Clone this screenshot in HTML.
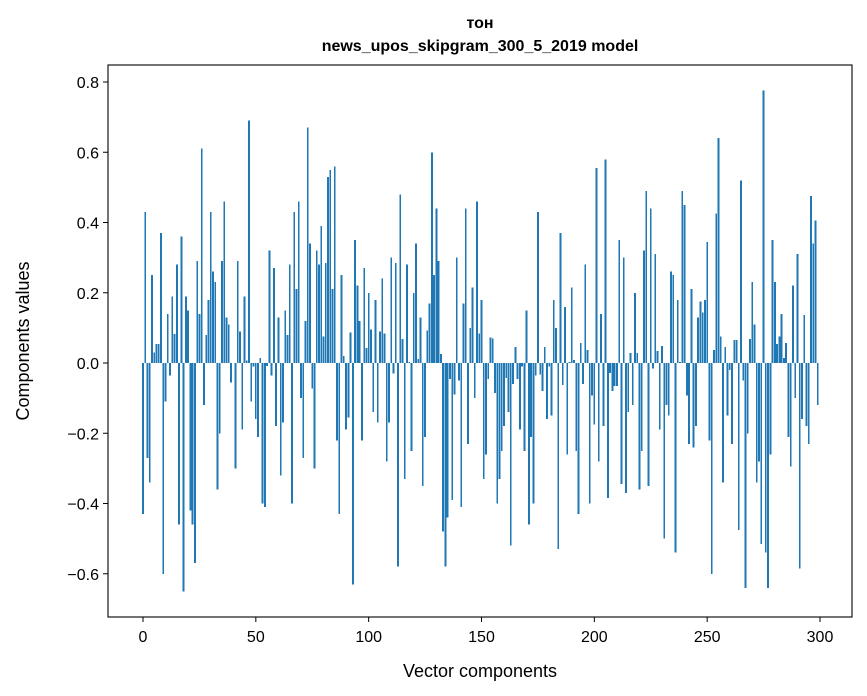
<!DOCTYPE html>
<html><head><meta charset="utf-8"><style>
html,body{margin:0;padding:0;background:#fff}
svg{display:block;font-family:"Liberation Sans","DejaVu Sans",sans-serif}
</style></head><body>
<svg id="chart" width="867" height="696" xmlns="http://www.w3.org/2000/svg">
<text x="480" y="28" text-anchor="middle" font-size="16" font-weight="bold">тон</text>
<text x="480" y="51" text-anchor="middle" font-size="16" font-weight="bold">news_upos_skipgram_300_5_2019 model</text>
<g id="bars" shape-rendering="crispEdges"></g>
<g id="axes"></g>
<text x="480" y="677" text-anchor="middle" font-size="18">Vector components</text>
<text transform="translate(29,341) rotate(-90)" text-anchor="middle" font-size="18">Components values</text>
</svg>
<script>
const values = [-0.43,0.43,-0.27,-0.34,0.25,0.03,0.054,0.054,0.37,-0.60,-0.11,0.14,-0.036,0.19,0.083,0.28,-0.46,0.36,-0.65,0.19,0.15,-0.42,-0.46,-0.57,0.29,0.14,0.61,-0.12,0.08,0.18,0.43,0.26,0.23,-0.36,-0.2,0.29,0.46,0.13,0.11,-0.056,0.0,-0.30,0.29,0.09,-0.19,0.19,0.007,0.69,-0.11,-0.01,
-0.16,-0.21,0.014,-0.40,-0.41,-0.008,0.32,-0.036,0.27,-0.18,0.13,-0.32,-0.17,0.15,0.08,0.28,-0.40,0.43,0.21,0.46,-0.10,-0.27,0.12,0.67,0.34,-0.073,-0.30,0.32,0.28,0.39,0.076,0.285,0.53,0.55,0.21,0.56,-0.22,-0.43,0.25,0.02,-0.19,-0.155,0.087,-0.63,0.35,0.22,0.12,-0.22,0.27,0.043,
0.2,0.096,-0.14,0.18,-0.17,0.09,0.24,0.084,-0.28,-0.17,0.30,-0.03,0.285,-0.58,0.48,0.068,-0.33,0.28,0.003,-0.25,0.2,0.34,0.011,0.13,-0.35,-0.21,0.093,0.17,0.60,0.25,0.44,0.29,0.026,-0.48,-0.58,-0.44,-0.045,-0.39,-0.09,0.30,-0.05,-0.41,0.17,0.44,-0.23,0.10,0.215,-0.10,0.46,0.084,
0.18,-0.33,-0.26,-0.045,0.073,0.07,-0.085,-0.40,-0.33,-0.25,-0.18,-0.042,-0.14,-0.52,-0.06,0.046,-0.045,-0.19,-0.01,-0.25,0.15,-0.46,-0.21,-0.40,-0.036,0.43,-0.033,-0.08,0.046,-0.16,-0.01,-0.15,0.18,0.1,-0.53,0.37,-0.062,0.16,-0.26,0.003,0.215,0.009,-0.25,-0.43,0.057,-0.06,0.28,0.037,-0.40,-0.093,
-0.175,0.555,-0.28,0.14,-0.18,0.58,-0.385,-0.028,-0.08,-0.065,-0.065,0.35,-0.345,0.30,-0.37,-0.14,0.028,-0.12,0.20,0.028,-0.36,-0.25,0.32,0.49,-0.35,0.44,-0.016,0.31,0.034,-0.19,0.048,-0.50,-0.12,-0.15,0.26,0.25,-0.54,0.18,0.003,0.49,0.45,-0.093,-0.23,0.21,-0.24,-0.18,0.13,0.175,0.144,0.18,
0.345,-0.22,-0.60,0.037,0.425,0.64,0.076,-0.34,0.046,-0.15,-0.02,-0.23,0.065,0.065,-0.475,0.52,-0.05,-0.64,-0.20,0.068,0.23,0.11,-0.34,-0.28,-0.515,0.776,-0.54,-0.64,-0.26,0.35,0.23,0.054,0.076,0.14,0.014,0.057,-0.21,-0.295,0.22,-0.10,0.31,-0.585,-0.16,0.136,-0.18,-0.23,0.476,0.34,0.405,-0.12];
const xTicks = [0,50,100,150,200,250,300];
const yTicks = [-0.6,-0.4,-0.2,0.0,0.2,0.4,0.6,0.8];
const yTickLabels = ["\u22120.6","\u22120.4","\u22120.2","0.0","0.2","0.4","0.6","0.8"];

const NS="http://www.w3.org/2000/svg";
const L=108,R=852,T=65,B=617;
const xs = v => 143 + v*(820-143)/300;
const ys = v => 363 - v*351.25;
const bars=document.getElementById('bars');
const bw = 0.8*(820-143)/300;
values.forEach((v,i)=>{
  const r=document.createElementNS(NS,'rect');
  const y0=ys(0), y1=ys(v);
  r.setAttribute('x', xs(i)-bw/2);
  r.setAttribute('y', Math.min(y0,y1));
  r.setAttribute('width', bw);
  r.setAttribute('height', Math.abs(y1-y0));
  r.setAttribute('fill','#1f77b4');
  
  
  bars.appendChild(r);
});
const ax=document.getElementById('axes');
const frame=document.createElementNS(NS,'rect');
frame.setAttribute('x',L);frame.setAttribute('y',T);frame.setAttribute('width',R-L);frame.setAttribute('height',B-T);
frame.setAttribute('fill','none');frame.setAttribute('stroke','#000');frame.setAttribute('stroke-width','1.1');


ax.appendChild(frame);
xTicks.forEach(t=>{
  const x=xs(t);
  const l=document.createElementNS(NS,'line');
  l.setAttribute('x1',x);l.setAttribute('x2',x);l.setAttribute('y1',B);l.setAttribute('y2',B+5);l.setAttribute('stroke','#000');
  
  
  ax.appendChild(l);
  const tx=document.createElementNS(NS,'text');
  tx.setAttribute('x',x);tx.setAttribute('y',B+25);tx.setAttribute('text-anchor','middle');tx.setAttribute('font-size','16');
  tx.textContent=String(t);
  
  
  ax.appendChild(tx);
});
yTicks.forEach((t,i)=>{
  const y=ys(t);
  const l=document.createElementNS(NS,'line');
  l.setAttribute('x1',L-5);l.setAttribute('x2',L);l.setAttribute('y1',y);l.setAttribute('y2',y);l.setAttribute('stroke','#000');
  
  
  ax.appendChild(l);
  const tx=document.createElementNS(NS,'text');
  tx.setAttribute('x',L-9);tx.setAttribute('y',y+6);tx.setAttribute('text-anchor','end');tx.setAttribute('font-size','16');
  tx.textContent=yTickLabels[i];
  
  
  ax.appendChild(tx);
});
</script>
</body></html>
